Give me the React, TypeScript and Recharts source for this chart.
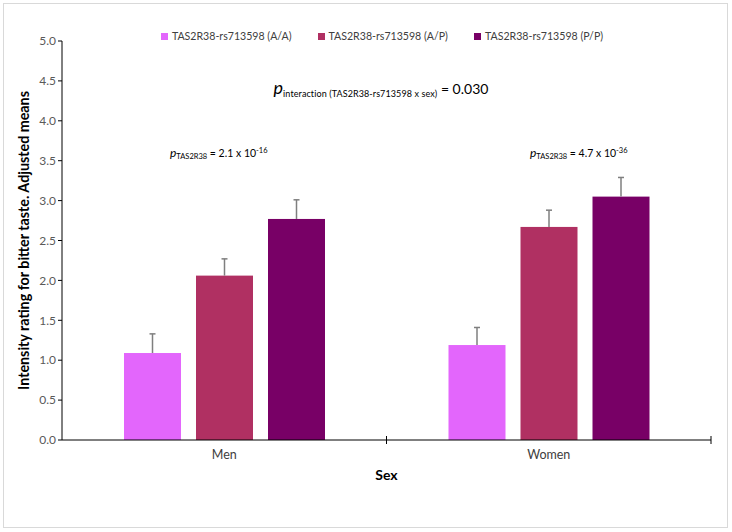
import React from 'react';
import { BarChart, Bar, XAxis, YAxis, Legend } from 'recharts';

const categories = ['Men', 'Women'];
const aaMeans = [1.09, 1.19];
const apMeans = [2.06, 2.67];
const ppMeans = [2.77, 3.05];
const aaErr = [0.24, 0.22];
const apErr = [0.21, 0.21];
const ppErr = [0.24, 0.24];
const yTicks = [0, 0.5, 1, 1.5, 2, 2.5, 3, 3.5, 4, 4.5, 5];

const seriesNames = ['TAS2R38-rs713598 (A/A)', 'TAS2R38-rs713598 (A/P)', 'TAS2R38-rs713598 (P/P)'];
const colors = ['#E366FC', '#B03062', '#780066'];

const data = categories.map((c, i) => ({
  sex: c,
  aa: aaMeans[i],
  ap: apMeans[i],
  pp: ppMeans[i],
  aaErr: aaErr[i],
  apErr: apErr[i],
  ppErr: ppErr[i],
}));

const FONT = 'Lato, "Liberation Sans", sans-serif';
const W = 732;
const H = 532;
// legend sits on top and takes ~16px of the top offset
const margin = { top: 25, right: 21, bottom: 0, left: 0 };

// bar with an upward-only error bar, sized from the bar's own pixel scale
const barWithError = (key: string, errKey: string) => (props: any) => {
  const { x, y, width, height, fill, payload } = props;
  const ppu = height / payload[key];
  const e = payload[errKey] * ppu;
  const cx = x + width / 2;
  return (
    <g>
      <rect x={x} y={y} width={width} height={height} fill={fill} />
      <line x1={cx} y1={y} x2={cx} y2={y - e} stroke="#7f7f7f" strokeWidth={1.5} />
      <line x1={cx - 3} y1={y - e} x2={cx + 3} y2={y - e} stroke="#7f7f7f" strokeWidth={1.5} />
    </g>
  );
};

const LegendContent = () => (
  <div style={{ display: 'flex', justifyContent: 'center', gap: 26, fontFamily: FONT, fontSize: 10.6, color: '#404040', paddingLeft: 32, height: 16, alignItems: 'center' }}>
    {seriesNames.map((n, i) => (
      <div key={n} style={{ display: 'flex', alignItems: 'center' }}>
        <span style={{ width: 7, height: 7, background: colors[i], marginRight: 4, display: 'inline-block' }} />
        {n}
      </div>
    ))}
  </div>
);

export default function App() {
  const plotLeft = 62;
  const plotRight = W - margin.right;
  const axisY = 440;
  return (
    <div style={{ position: 'absolute', left: 0, top: 0, width: W, height: H, background: '#fff' }}>
      <div style={{ position: 'absolute', left: 3, top: 3, width: 725, height: 525, border: '1px solid #d9d9d9', boxSizing: 'border-box' }} />
      <BarChart
        width={W}
        height={H}
        data={data}
        margin={margin}
        barGap={15}
        barCategoryGap={62}
        style={{ position: 'absolute', left: 0, top: 0 }}
      >
        <XAxis
          dataKey="sex"
          height={92}
          axisLine={{ stroke: '#000' }}
          tickLine={false}
          tick={{ fill: '#404040', fontSize: 12.5, fontFamily: FONT }}
          dy={2}
          label={{ value: 'Sex', position: 'insideTop', offset: 30, fill: '#000', fontSize: 14, fontWeight: 700, fontFamily: FONT }}
        />
        <YAxis
          width={62}
          domain={[0, 5]}
          ticks={yTicks}
          tickFormatter={(v: number) => v.toFixed(1)}
          axisLine={{ stroke: '#000' }}
          tickLine={{ stroke: '#000' }}
          tickSize={4}
          tick={{ fill: '#595959', fontSize: 12, fontFamily: FONT }}
          label={{
            value: 'Intensity rating for bitter taste. Adjusted means',
            angle: -90,
            position: 'center',
            dx: -7,
            fill: '#000',
            fontSize: 14.3,
            fontWeight: 700,
            fontFamily: FONT,
          }}
        />
        <Legend verticalAlign="top" content={<LegendContent />} wrapperStyle={{ top: 28, left: 0, width: W }} />
        <Bar dataKey="aa" name={seriesNames[0]} fill={colors[0]} isAnimationActive={false} shape={barWithError('aa', 'aaErr')} />
        <Bar dataKey="ap" name={seriesNames[1]} fill={colors[1]} isAnimationActive={false} shape={barWithError('ap', 'apErr')} />
        <Bar dataKey="pp" name={seriesNames[2]} fill={colors[2]} isAnimationActive={false} shape={barWithError('pp', 'ppErr')} />
      </BarChart>
      <svg width={W} height={H} style={{ position: 'absolute', left: 0, top: 0, pointerEvents: 'none' }} fontFamily={FONT}>
        {[(plotLeft + plotRight) / 2, plotRight].map((tx) => (
          <line key={tx} x1={tx} y1={axisY - 4} x2={tx} y2={axisY + 4} stroke="#000" />
        ))}
        <text x={381} y={94} textAnchor="middle" fill="#000">
          <tspan fontSize={18} fontStyle="italic">p</tspan>
          <tspan fontSize={9} dy={3} letterSpacing={0.1}>{'interaction (TAS2R38-rs713598 x sex)'}</tspan>
          <tspan fontSize={14} dy={-3}>{' = 0.030'}</tspan>
        </text>
        <text x={170} y={157} fill="#000">
          <tspan fontSize={12} fontStyle="italic">p</tspan>
          <tspan fontSize={7.5} dy={2}>TAS2R38</tspan>
          <tspan fontSize={10.5} dy={-2}>{' = 2.1 x 10'}</tspan>
          <tspan fontSize={7.5} dy={-4}>-16</tspan>
        </text>
        <text x={530} y={157} fill="#000">
          <tspan fontSize={12} fontStyle="italic">p</tspan>
          <tspan fontSize={7.5} dy={2}>TAS2R38</tspan>
          <tspan fontSize={10.5} dy={-2}>{' = 4.7 x 10'}</tspan>
          <tspan fontSize={7.5} dy={-4}>-36</tspan>
        </text>
      </svg>
    </div>
  );
}
